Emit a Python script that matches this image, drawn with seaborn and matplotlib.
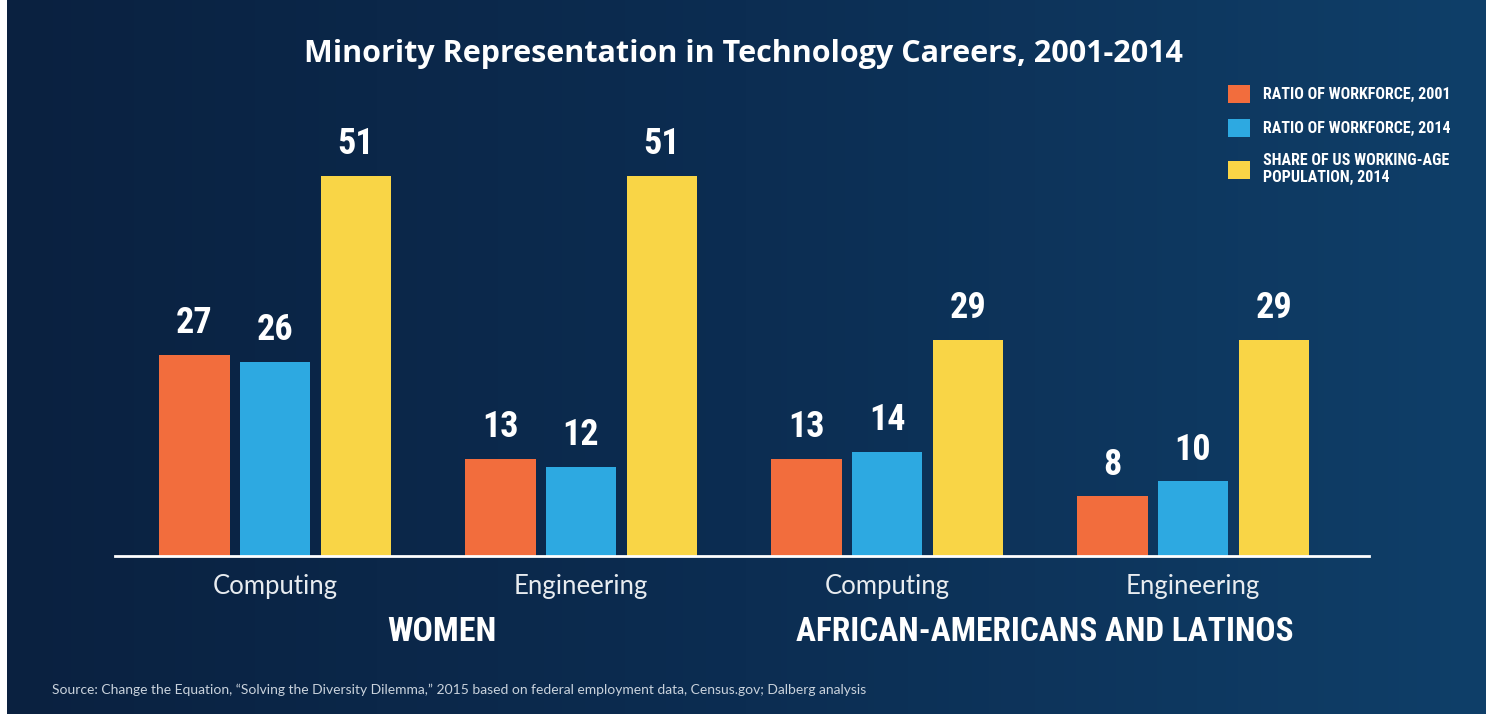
import numpy as np
import pandas as pd
import seaborn as sns
import matplotlib
matplotlib.use("Agg")
from matplotlib import pyplot as plt
from matplotlib import font_manager

# chart data
groups = ["W-Computing", "W-Engineering", "AL-Computing", "AL-Engineering"]
group_labels = ["Computing", "Engineering", "Computing", "Engineering"]
series = ["RATIO OF WORKFORCE, 2001", "RATIO OF WORKFORCE, 2014",
          "SHARE OF US WORKING-AGE\nPOPULATION, 2014"]
workforce_2001 = [27, 13, 13, 8]
workforce_2014 = [26, 12, 14, 10]
population_2014 = [51, 51, 29, 29]
colors = ["#F26D3D", "#2DA9E1", "#F9D546"]

title = "Minority Representation in Technology Careers, 2001-2014"
source = ("Source: Change the Equation, \u201cSolving the Diversity Dilemma,\u201d 2015 "
          "based on federal employment data, Census.gov; Dalberg analysis")

df = pd.DataFrame({
    "group": groups * 3,
    "series": np.repeat(series, len(groups)),
    "value": workforce_2001 + workforce_2014 + population_2014,
})

sns.set_theme(style="white")
plt.rcParams["font.family"] = ["Lato", "DejaVu Sans"]

# pick a condensed face if one is installed
installed = {f.name for f in font_manager.fontManager.ttflist}
narrow = [n for n in ["Roboto Condensed", "DejaVu Sans Condensed",
                      "Liberation Sans Narrow"] if n in installed]
narrow = narrow + ["Roboto", "DejaVu Sans"]

W, H = 1486, 714
fig = plt.figure(figsize=(W / 100, H / 100), dpi=100)
fig.patch.set_facecolor("white")

# gradient background
bg = fig.add_axes([7 / W, 0, 1 - 7 / W, 1])
grad = np.linspace(0, 1, 256)[None, :]
cmap = matplotlib.colors.LinearSegmentedColormap.from_list("bg", ["#0A2140", "#0C2D52", "#0F3F69"])
bg.imshow(grad, aspect="auto", cmap=cmap, extent=[0, 1, 0, 1])
bg.set_axis_off()

ax = fig.add_axes([115 / W, 158 / H, 1254 / W, 456 / H])
ax.set_facecolor("none")
sns.barplot(data=df, x="group", y="value", hue="series", palette=colors,
            width=0.79, gap=0.13, ax=ax, saturation=1, linewidth=0, legend=True)

for cont in ax.containers:
    ax.bar_label(cont, padding=10, color="white", fontsize=26,
                 family=narrow, weight="bold", stretch="condensed")

ax.set_xlim(-0.523, 3.575)
ax.set_ylim(0, 61.2)
ax.set_xticks(range(len(groups)))
ax.set_xticklabels(group_labels, fontsize=18.5, color="#E8ECF0")
ax.tick_params(axis="x", length=0, pad=13)
ax.set_yticks([])
ax.set_xlabel("")
ax.set_ylabel("")
for side in ["top", "right", "left"]:
    ax.spines[side].set_visible(False)
ax.spines["bottom"].set_color("white")
ax.spines["bottom"].set_linewidth(2)

handles, labels = ax.get_legend_handles_labels()
ax.legend(handles, labels, loc="upper left",
          bbox_to_anchor=(1228 / W, 1 - 85 / H), bbox_transform=fig.transFigure,
          frameon=False, borderpad=0, borderaxespad=0,
          handlelength=1.35, handleheight=1.35, handletextpad=0.85,
          labelspacing=1.0, labelcolor="white",
          prop={"family": narrow, "weight": "bold", "size": 11.5, "stretch": "condensed"})

fig.text(743 / W, 1 - 54 / H, title, ha="center", va="center", color="white",
         fontsize=22, weight="bold", family=["Open Sans", "DejaVu Sans"])
fig.text(442 / W, 1 - 632 / H, "WOMEN", ha="center", va="center", color="white",
         fontsize=24.5, weight="bold", family=narrow, stretch="condensed")
fig.text(1045 / W, 1 - 632 / H, "AFRICAN-AMERICANS AND LATINOS", ha="center",
         va="center", color="white", fontsize=24, weight="bold", family=narrow,
         stretch="condensed")
fig.text(52 / W, 1 - 690 / H, source, ha="left", va="center", color="#C9D2DC",
         fontsize=10)

fig.savefig("out.png", dpi=100, facecolor=fig.get_facecolor())
